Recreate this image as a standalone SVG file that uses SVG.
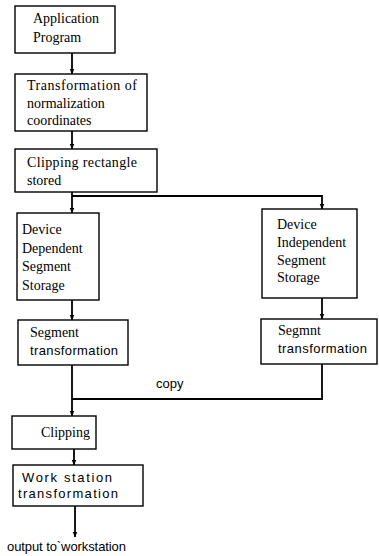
<svg xmlns="http://www.w3.org/2000/svg" width="379" height="556" viewBox="0 0 379 556">
<defs>
<marker id="ah" viewBox="0 0 10 10" refX="9" refY="5" markerWidth="6" markerHeight="6" orient="auto" markerUnits="userSpaceOnUse">
<path d="M0,1 L10,5 L0,9 Z" fill="#000"/>
</marker>
<style>
.box{fill:#fff;stroke:#000;stroke-width:1.4}
.serif{font-family:"Liberation Serif","Times New Roman",serif;font-size:14px;fill:#000}
.sans{font-family:"Liberation Sans",Arial,sans-serif;font-size:13px;fill:#000}
.con{fill:none;stroke:#000;stroke-width:1.8}
</style>
</defs>
<rect width="379" height="556" fill="#fff"/>
<g id="connectors">
<line class="con" x1="72" y1="53" x2="72" y2="74" marker-end="url(#ah)"/>
<line class="con" x1="72" y1="131" x2="72" y2="149" marker-end="url(#ah)"/>
<line class="con" x1="72" y1="192" x2="72" y2="213" marker-end="url(#ah)"/>
<polyline class="con" points="72,196 322,196 322,209" marker-end="url(#ah)"/>
<line class="con" x1="72" y1="300" x2="72" y2="320" marker-end="url(#ah)"/>
<line class="con" x1="322" y1="298" x2="322" y2="319" marker-end="url(#ah)"/>
<polyline class="con" points="322,364 322,399 72,399"/>
<line class="con" x1="72" y1="365" x2="72" y2="416" marker-end="url(#ah)"/>
<line class="con" x1="74" y1="449" x2="74" y2="465" marker-end="url(#ah)"/>
<line class="con" x1="75" y1="506" x2="75" y2="537" marker-end="url(#ah)"/>
<text class="sans" x="156" y="388" font-size="12">copy</text>
</g>
<g id="app">
<rect class="box" x="15" y="6" width="100" height="47"/>
<text class="serif" x="33" y="23">Application</text>
<text class="serif" x="33" y="42">Program</text>
</g>
<g id="norm">
<rect class="box" x="15" y="74" width="132" height="57"/>
<text class="serif" x="27" y="90" textLength="110" lengthAdjust="spacing">Transformation of</text>
<text class="serif" x="27" y="108">normalization</text>
<text class="serif" x="27" y="125">coordinates</text>
</g>
<g id="cliprect">
<rect class="box" x="15" y="149" width="142" height="43"/>
<text class="serif" x="27" y="167" textLength="110" lengthAdjust="spacing">Clipping rectangle</text>
<text class="serif" x="27" y="185">stored</text>
</g>
<g id="ddss">
<rect class="box" x="17" y="213" width="82" height="87"/>
<text class="serif" x="22" y="234">Device</text>
<text class="serif" x="22" y="253">Dependent</text>
<text class="serif" x="22" y="271">Segment</text>
<text class="serif" x="22" y="290">Storage</text>
</g>
<g id="segtrans">
<rect class="box" x="18" y="320" width="110" height="45"/>
<text class="serif" x="30" y="337">Segment</text>
<text class="sans" x="30" y="355" textLength="88" lengthAdjust="spacing">transformation</text>
</g>
<g id="diss">
<rect class="box" x="262" y="209" width="95" height="89"/>
<text class="serif" x="277" y="229">Device</text>
<text class="serif" x="277" y="247">Independent</text>
<text class="serif" x="277" y="265">Segment</text>
<text class="serif" x="277" y="282">Storage</text>
</g>
<g id="segmnt">
<rect class="box" x="261" y="319" width="116" height="45"/>
<text class="serif" x="278" y="335">Segmnt</text>
<text class="sans" x="278" y="353" textLength="89" lengthAdjust="spacing">transformation</text>
</g>
<g id="clipping">
<rect class="box" x="12" y="416" width="84" height="33"/>
<text class="serif" x="41" y="437">Clipping</text>
</g>
<g id="workstation">
<rect class="box" x="13" y="465" width="130" height="41"/>
<text class="sans" x="22" y="482" textLength="90" lengthAdjust="spacing">Work station</text>
<text class="sans" x="18" y="498" textLength="100" lengthAdjust="spacing">transformation</text>
</g>
<g id="output">
<text class="sans" x="7" y="551" textLength="119" lengthAdjust="spacing">output to`workstation</text>
</g>
</svg>
